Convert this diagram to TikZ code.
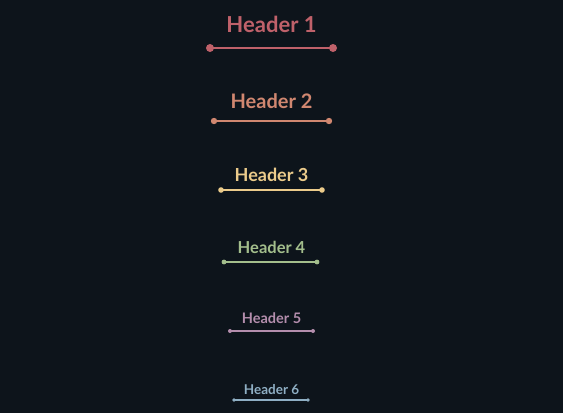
\documentclass[tikz,border=0pt]{standalone}
\usepackage{fontspec}
\setmainfont{Lato}
\definecolor{bgdark}{HTML}{0D141B}
\definecolor{hone}{HTML}{BF616A}
\definecolor{htwo}{HTML}{D08770}
\definecolor{hthree}{HTML}{EBCB8B}
\definecolor{hfour}{HTML}{A3BE8C}
\definecolor{hfive}{HTML}{B48EAD}
\definecolor{hsix}{HTML}{8FAFC4}
\begin{document}
\begin{tikzpicture}
  [x=1pt,y=-1pt,every node/.style={inner sep=0pt,anchor=base}]
  \tikzstyle{rule} = [line cap=round]
  \fill[bgdark] (0,0) rectangle (563,413);
  \useasboundingbox (0,0) rectangle (563,413);
  \foreach \n/\ty/\ly/\xl/\xr/\fs/\r/\lw/\col in
    {1/32/48/210/333/22/4/2.3/hone,
     2/108/121/214/329/20/3.2/2.1/htwo,
     3/181/190/221/322/18/2.8/2/hthree,
     4/253/262/224/317/16.5/2.4/1.9/hfour,
     5/323/331/230/313/14.5/2/1.8/hfive,
     6/394/400/234/308/13.5/1.8/1.7/hsix}
  {
    \node[text=\col,font=\fontsize{\fs}{\fs}\selectfont\bfseries] (h\n) at (271.5,\ty) {Header \n};
    \coordinate (l\n) at (\xl,\ly);
    \coordinate (r\n) at (\xr,\ly);
    \draw[rule,\col,line width=\lw] (l\n) -- (r\n);
    \fill[\col] (l\n) circle (\r) (r\n) circle (\r);
  }
\end{tikzpicture}
\end{document}
